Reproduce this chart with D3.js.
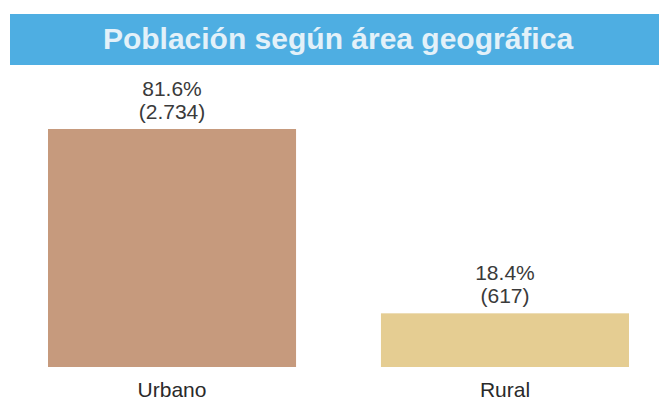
<!DOCTYPE html>
<html>
  <head>
    <meta charset="utf-8" />
    <title>Población según área geográfica</title>
    <script src="https://d3js.org/d3.v7.min.js"></script>
    <style>
      body { margin: 0; background: #fff; }
    </style>
  </head>
  <body>
    <svg id="viz"></svg>
    <script>
        var categories = ["Urbano", "Rural"];
        var percents = [81.6, 18.4];
        var counts = ["2.734", "617"];
        var colors = ["#c69a7d", "#e5cd92"];

        var width = 659;
        var height = 402;
        var font = "Liberation Sans, Arial, sans-serif";

        var svg = d3.select("#viz")
            .attr("width", width)
            .attr("height", height);

        // title banner
        svg.append("rect")
            .attr("x", 10)
            .attr("y", 14)
            .attr("width", width - 10)
            .attr("height", 51)
            .attr("fill", "#4eaee2");

        svg.append("text")
            .attr("x", 338)
            .attr("y", 49)
            .attr("text-anchor", "middle")
            .style("font-family", font)
            .style("font-weight", "bold")
            .style("font-size", "30px")
            .style("fill", "#e3f1f9")
            .text("Población según área geográfica");

        var x = d3.scaleBand()
            .domain(categories)
            .range([48, 629])
            .paddingInner(0.255)
            .paddingOuter(0);

        var y = d3.scaleLinear()
            .domain([0, d3.max(percents)])
            .range([367, 129]);

        var data = categories.map(function(c, i) {
            return {cat: c, pct: percents[i], n: counts[i], color: colors[i]};
        });

        var g = svg.append("g");

        g.selectAll("rect.bar")
            .data(data)
            .enter().append("rect")
            .attr("class", "bar")
            .attr("x", function(d) { return x(d.cat); })
            .attr("y", function(d) { return y(d.pct); })
            .attr("width", x.bandwidth())
            .attr("height", function(d) { return y(0) - y(d.pct); })
            .attr("fill", function(d) { return d.color; });

        g.selectAll("text.pct")
            .data(data)
            .enter().append("text")
            .attr("class", "pct")
            .attr("x", function(d) { return x(d.cat) + x.bandwidth() / 2; })
            .attr("y", function(d) { return y(d.pct) - 33; })
            .attr("text-anchor", "middle")
            .style("font-family", font)
            .style("font-size", "21px")
            .style("fill", "#3a3a3a")
            .text(function(d) { return d.pct.toFixed(1) + "%"; });

        g.selectAll("text.count")
            .data(data)
            .enter().append("text")
            .attr("class", "count")
            .attr("x", function(d) { return x(d.cat) + x.bandwidth() / 2; })
            .attr("y", function(d) { return y(d.pct) - 10; })
            .attr("text-anchor", "middle")
            .style("font-family", font)
            .style("font-size", "21px")
            .style("fill", "#3a3a3a")
            .text(function(d) { return "(" + d.n + ")"; });

        g.selectAll("text.cat")
            .data(data)
            .enter().append("text")
            .attr("class", "cat")
            .attr("x", function(d) { return x(d.cat) + x.bandwidth() / 2; })
            .attr("y", 397)
            .attr("text-anchor", "middle")
            .style("font-family", font)
            .style("font-size", "21px")
            .style("fill", "#2a2a2a")
            .text(function(d) { return d.cat; });
    </script>
  </body>
</html>
